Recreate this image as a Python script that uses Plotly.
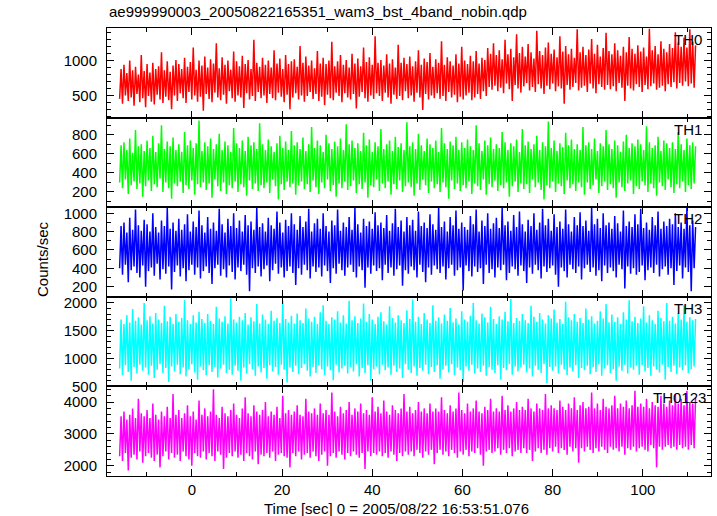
import plotly.graph_objects as go

# ---------------- data ----------------
title_text = "ae999990003_20050822165351_wam3_bst_4band_nobin.qdp"
x_label = "Time [sec] 0 = 2005/08/22 16:53:51.076"
y_label = "Counts/sec"
band_names = ["TH0", "TH1", "TH2", "TH3", "TH0123"]
band_colors = ["#ff0000", "#00ff00", "#0000ff", "#00ffff", "#ff00ff"]

t_start = -16.0
bin_width = 0.32

th0 = [450, 880, 380, 940, 500, 820, 420, 1000, 470, 860, 350, 910, 520, 800, 400, 1080, 460, 850, 330, 950,
       490, 830, 410, 970, 370, 880, 510, 920, 440, 1120, 390, 860, 480, 990, 430, 840, 300, 930, 500, 1010,
       420, 950, 530, 880, 460, 1040, 390, 910, 550, 980, 440, 1190, 500, 870, 410, 1000, 480, 930, 280, 1060,
       520, 900, 450, 1020, 400, 960, 540, 1250, 470, 890, 430, 1050, 510, 940, 380, 1000, 560, 870, 460, 1130,
       410, 990, 500, 920, 470, 1070, 320, 950, 530, 1010, 440, 880, 490, 1300, 420, 970, 550, 910, 460, 1040,
       500, 940, 390, 1000, 520, 900, 460, 1150, 430, 960, 540, 1030, 480, 880, 400, 1080, 510, 950, 300, 990,
       470, 1020, 530, 910, 440, 1210, 500, 970, 410, 1060, 490, 930, 550, 1000, 450, 890, 520, 1140, 420, 960,
       480, 1040, 360, 950, 510, 1000, 460, 1270, 430, 920, 540, 990, 490, 1080, 400, 940, 530, 1010, 470, 900,
       440, 1100, 520, 960, 310, 1030, 480, 920, 550, 1190, 460, 980, 410, 1050, 500, 940, 450, 1350, 530, 970,
       490, 1010, 420, 930, 540, 1090, 470, 960, 380, 1020, 510, 900, 450, 1230, 490, 970, 430, 1040, 560, 950,
       460, 1060, 500, 920, 410, 990, 540, 1150, 470, 940, 290, 1030, 520, 980, 440, 1110, 500, 910, 460, 1020,
       530, 970, 450, 1280, 490, 940, 420, 1050, 550, 990, 470, 930, 510, 1090, 400, 960, 480, 1200, 440, 1000,
       500, 950, 540, 1070, 430, 990, 470, 1140, 520, 960, 450, 1040, 560, 1010, 490, 1180, 620, 1100, 580, 1250,
       640, 1080, 560, 1150, 610, 1020, 530, 1300, 670, 1090, 590, 1170, 420, 1050, 650, 1380, 600, 1110, 540, 1200,
       630, 1060, 680, 1240, 570, 1120, 620, 1030, 550, 1430, 660, 1140, 600, 1080, 520, 1190, 640, 1260, 590, 1100,
       670, 1160, 560, 1050, 630, 1350, 600, 1130, 380, 1210, 650, 1090, 580, 1170, 620, 1040, 680, 1450, 570, 1120,
       610, 1200, 640, 1080, 550, 1160, 670, 1310, 600, 1100, 530, 1230, 660, 1060, 620, 1180, 580, 1400, 650, 1140,
       590, 1090, 630, 1250, 560, 1150, 680, 1070, 610, 1200, 420, 1120, 640, 1340, 600, 1170, 570, 1100, 660, 1220,
       620, 1130, 550, 1190, 650, 1060, 590, 1460, 630, 1150, 670, 1210, 580, 1090, 610, 1280, 640, 1170, 560, 1120,
       660, 1240, 620, 1180, 690, 1410, 600, 1260, 680, 1200, 640, 1330, 700, 1190, 630, 1450, 670, 1270, 610, 1220]

th1 = [300, 690, 240, 720, 330, 640, 180, 760, 270, 610, 310, 850, 230, 680, 290, 700, 150, 630, 260, 740,
       320, 660, 210, 790, 280, 620, 250, 710, 340, 900, 200, 650, 300, 730, 240, 680, 130, 770, 290, 640,
       260, 700, 310, 620, 190, 830, 270, 690, 230, 740, 320, 660, 170, 710, 280, 950, 250, 630, 300, 720,
       220, 680, 290, 760, 140, 650, 330, 700, 260, 810, 210, 640, 300, 730, 180, 690, 270, 620, 240, 870,
       310, 710, 200, 660, 280, 740, 250, 630, 160, 780, 320, 690, 230, 720, 290, 650, 210, 920, 270, 700,
       240, 640, 300, 750, 190, 680, 330, 620, 260, 710, 120, 790, 280, 660, 220, 730, 310, 640, 250, 840,
       290, 690, 170, 720, 270, 650, 310, 770, 230, 630, 280, 700, 200, 880, 320, 660, 250, 740, 180, 690,
       300, 620, 240, 800, 330, 710, 210, 650, 270, 730, 150, 680, 290, 760, 240, 640, 310, 910, 220, 700,
       260, 740, 320, 660, 190, 710, 280, 630, 230, 820, 300, 690, 140, 750, 270, 620, 250, 720, 330, 680,
       210, 860, 290, 650, 240, 700, 310, 740, 170, 630, 280, 780, 230, 670, 320, 710, 200, 640, 260, 930,
       300, 680, 250, 720, 160, 650, 290, 810, 220, 690, 330, 630, 270, 760, 190, 700, 310, 660, 240, 740,
       280, 620, 200, 870, 300, 710, 250, 650, 130, 730, 320, 690, 230, 780, 290, 640, 210, 720, 270, 660,
       240, 750, 310, 680, 180, 640, 290, 900, 260, 710, 220, 630, 330, 740, 170, 690, 280, 770, 250, 650,
       320, 700, 210, 660, 270, 830, 240, 720, 300, 640, 150, 710, 260, 680, 310, 750, 200, 620, 290, 860,
       230, 690, 280, 730, 190, 650, 330, 700, 250, 790, 300, 640, 220, 720, 120, 680, 270, 940, 240, 660,
       310, 740, 200, 630, 290, 710, 260, 670, 180, 820, 320, 690, 240, 750, 280, 650, 210, 700, 300, 640,
       250, 880, 170, 690, 300, 720, 230, 650, 270, 760, 330, 630, 190, 710, 260, 680, 310, 850, 220, 700,
       280, 650, 240, 740, 140, 690, 300, 620, 250, 730, 210, 800, 290, 660, 320, 710, 180, 680, 260, 750,
       230, 700, 310, 640, 270, 890, 200, 720, 290, 660, 240, 690, 160, 780, 300, 630, 260, 740, 220, 710,
       330, 660, 250, 720, 190, 650, 280, 830, 240, 700, 310, 640, 200, 760, 270, 690, 230, 720, 290, 680]

th2 = [400, 860, 330, 900, 440, 790, 250, 950, 380, 820, 420, 1040, 350, 870, 300, 810, 430, 930, 200, 880,
       370, 800, 410, 1000, 320, 850, 450, 790, 280, 920, 390, 860, 340, 1060, 420, 830, 170, 900, 360, 810,
       430, 940, 310, 820, 400, 880, 260, 990, 380, 800, 440, 910, 330, 850, 410, 1030, 290, 870, 370, 790,
       420, 960, 350, 830, 230, 900, 400, 810, 440, 1050, 320, 880, 390, 790, 300, 940, 430, 860, 360, 1000,
       280, 840, 410, 920, 370, 800, 440, 980, 330, 870, 150, 910, 400, 820, 350, 1060, 420, 850, 310, 890,
       390, 800, 430, 950, 260, 870, 380, 830, 450, 1020, 340, 900, 410, 790, 300, 930, 370, 860, 420, 1000,
       350, 880, 220, 820, 400, 970, 330, 850, 440, 910, 380, 1050, 290, 800, 420, 890, 360, 940, 410, 830,
       310, 1000, 430, 860, 370, 800, 240, 920, 400, 870, 340, 1040, 450, 810, 380, 900, 320, 850, 410, 960,
       440, 820, 360, 1060, 300, 880, 420, 790, 380, 940, 190, 860, 410, 910, 340, 830, 430, 1010, 370, 870,
       400, 900, 270, 840, 440, 980, 350, 810, 410, 890, 320, 1050, 390, 850, 430, 920, 210, 800, 380, 960,
       340, 870, 420, 930, 380, 810, 300, 1020, 440, 860, 360, 900, 250, 840, 410, 990, 330, 880, 430, 820,
       390, 1060, 350, 850, 420, 910, 280, 800, 400, 960, 440, 870, 320, 1030, 380, 830, 410, 900, 160, 850,
       430, 820, 370, 970, 310, 880, 420, 1040, 360, 800, 400, 920, 230, 860, 440, 1000, 350, 830, 390, 890,
       300, 950, 410, 840, 380, 1060, 440, 870, 270, 910, 350, 810, 420, 980, 390, 850, 320, 1020, 430, 880,
       370, 800, 240, 930, 410, 860, 340, 1000, 440, 820, 380, 900, 290, 1050, 420, 870, 360, 940, 400, 810,
       430, 990, 330, 850, 200, 910, 410, 830, 370, 1040, 300, 880, 440, 800, 390, 960, 350, 870, 420, 1010,
       280, 860, 400, 920, 440, 810, 360, 1060, 410, 880, 320, 940, 380, 840, 260, 1000, 430, 870, 350, 900,
       410, 830, 370, 970, 300, 890, 440, 800, 390, 1030, 180, 860, 420, 910, 340, 850, 400, 990, 330, 880,
       360, 1050, 430, 840, 270, 900, 380, 820, 410, 960, 350, 870, 440, 1020, 310, 830, 390, 910, 420, 860,
       330, 940, 400, 880, 220, 1000, 370, 850, 430, 900, 290, 830, 410, 1060, 360, 870, 150, 920, 400, 850]

th3 = [820, 1700, 700, 1620, 880, 1780, 760, 1650, 600, 1890, 850, 1680, 730, 1740, 890, 1610, 780, 2000, 840, 1690,
       710, 1760, 870, 1630, 650, 1820, 800, 1700, 900, 1640, 740, 1950, 830, 1670, 580, 1750, 860, 1620, 770, 1800,
       890, 1660, 720, 1730, 840, 2050, 680, 1690, 810, 1620, 900, 1780, 750, 1650, 620, 1840, 860, 1710, 790, 1640,
       700, 1800, 880, 1680, 760, 1620, 850, 1930, 660, 1720, 820, 1660, 890, 1760, 740, 1630, 800, 2080, 710, 1700,
       870, 1650, 780, 1750, 600, 1690, 840, 1820, 730, 1610, 900, 1740, 810, 1670, 690, 1980, 860, 1630, 750, 1790,
       830, 1700, 640, 1620, 880, 1860, 770, 1680, 850, 1730, 710, 1640, 890, 2030, 800, 1710, 570, 1650, 840, 1770,
       760, 1630, 870, 1810, 720, 1690, 830, 1640, 900, 1900, 780, 1720, 680, 1660, 850, 1750, 740, 1620, 880, 1830,
       810, 1960, 700, 1680, 860, 1620, 790, 1740, 610, 1700, 890, 1850, 750, 1650, 820, 1780, 870, 1630, 730, 2040,
       850, 1690, 770, 1760, 900, 1640, 680, 1720, 830, 1990, 740, 1660, 880, 1800, 600, 1700, 810, 1620, 860, 1750,
       720, 1830, 890, 1670, 790, 1610, 840, 1940, 710, 1730, 870, 1650, 760, 1780, 820, 1690, 650, 1640, 900, 1870,
       800, 1710, 740, 2060, 860, 1660, 690, 1750, 830, 1620, 780, 1820, 890, 1700, 720, 1640, 850, 1960, 760, 1680,
       880, 1740, 640, 1630, 810, 1790, 870, 1680, 750, 1910, 900, 1650, 700, 1720, 840, 1610, 790, 1850, 580, 1700,
       860, 1660, 780, 1770, 890, 2000, 730, 1690, 820, 1630, 760, 1810, 870, 1740, 690, 1650, 850, 1930, 800, 1710,
       740, 1620, 880, 1760, 620, 1700, 830, 1840, 790, 1670, 900, 2070, 710, 1640, 860, 1730, 770, 1680, 840, 1800,
       890, 1690, 750, 1640, 820, 1950, 680, 1750, 870, 1660, 800, 1820, 740, 1700, 900, 1630, 560, 1780, 850, 1720,
       780, 1880, 860, 1650, 730, 1710, 890, 1620, 810, 2020, 700, 1740, 840, 1690, 770, 1800, 880, 1660, 650, 1730,
       830, 1640, 790, 1900, 870, 1700, 720, 1760, 850, 1630, 760, 1680, 900, 1850, 690, 1720, 820, 1980, 880, 1650,
       740, 1790, 810, 1660, 600, 1740, 860, 1620, 780, 1830, 890, 1700, 730, 2050, 840, 1670, 800, 1750, 870, 1640,
       710, 1720, 880, 1940, 770, 1650, 830, 1780, 690, 1690, 860, 1620, 800, 1860, 750, 1730, 890, 1670, 620, 2000,
       850, 1680, 760, 1750, 870, 1630, 720, 1820, 840, 1700, 790, 1960, 880, 1660, 740, 1740, 810, 1690, 860, 1710]

th0123 = [2300, 3550, 2150, 3700, 2400, 3450, 1850, 3600, 2250, 3800, 2350, 3500, 2200, 4100, 2450, 3650, 2100, 3550, 2300, 3750,
          2400, 3500, 2250, 3950, 2150, 3600, 2350, 3450, 1950, 3700, 2300, 3550, 2450, 3850, 2200, 3500, 2400, 4250, 2250, 3600,
          2350, 3750, 2150, 3500, 2450, 3650, 2300, 3900, 2200, 3550, 2000, 3700, 2400, 3450, 2300, 4050, 2250, 3600, 2450, 3800,
          2200, 3550, 2400, 3700, 2300, 4400, 2150, 3600, 2450, 3500, 2350, 3850, 1900, 3650, 2250, 3550, 2400, 3750, 2300, 3950,
          2450, 3600, 2250, 3500, 2350, 3800, 2150, 4150, 2400, 3650, 2300, 3550, 2200, 3900, 2450, 3700, 2050, 3600, 2350, 3750,
          2300, 4000, 2400, 3550, 2250, 3700, 2450, 3600, 2150, 3850, 2350, 3500, 2400, 4200, 2300, 3650, 2250, 3750, 1950, 3600,
          2400, 3700, 2300, 3900, 2450, 3600, 2200, 3550, 2350, 4100, 2400, 3700, 2250, 3650, 2450, 3800, 2300, 3600, 2150, 3950,
          2350, 3650, 2450, 3750, 2000, 3600, 2300, 4300, 2400, 3700, 2250, 3550, 2450, 3850, 2350, 3650, 2200, 3750, 2400, 4000,
          2300, 3600, 2450, 3800, 2350, 3700, 2250, 3950, 2400, 3650, 1900, 3750, 2450, 3600, 2300, 4150, 2400, 3700, 2350, 3850,
          2450, 3650, 2300, 4050, 2400, 3700, 2250, 3600, 2450, 3900, 2350, 3750, 2150, 3650, 2400, 3800, 2300, 4250, 2450, 3700,
          2350, 3850, 2450, 3650, 2300, 3750, 2500, 4000, 2400, 3700, 2250, 3800, 2450, 3650, 2350, 3950, 2500, 3700, 2050, 3800,
          2400, 3700, 2500, 4150, 2350, 3750, 2450, 3650, 2300, 3900, 2500, 3700, 2400, 3800, 2250, 4300, 2450, 3750, 2350, 3650,
          2500, 3950, 2300, 3700, 2450, 3800, 2400, 4050, 2550, 3700, 2350, 3650, 2000, 3850, 2450, 3750, 2500, 4100, 2400, 3700,
          2450, 3800, 2550, 3700, 2350, 4200, 2500, 3750, 2400, 3900, 2550, 3700, 2300, 3800, 2450, 4000, 2500, 3750, 2400, 3850,
          2550, 3750, 2400, 4100, 2500, 3800, 2150, 3700, 2450, 3950, 2550, 3800, 2400, 3750, 2500, 4250, 2350, 3800, 2550, 3900,
          2450, 3800, 2600, 3750, 2400, 4050, 2550, 3850, 2500, 3750, 2350, 3950, 2600, 3800, 2450, 4150, 2550, 3750, 2100, 3900,
          2550, 4000, 2450, 3800, 2600, 3850, 2500, 4300, 2400, 3800, 2550, 3950, 2450, 3750, 2600, 4100, 2500, 3850, 2400, 3800,
          2600, 3900, 2500, 4200, 2550, 3800, 2450, 3950, 2600, 3850, 2350, 4050, 2550, 3800, 2500, 3900, 2600, 4350, 2450, 3850,
          2550, 3950, 2600, 3850, 2500, 4100, 2450, 3800, 2650, 4000, 2550, 3900, 1950, 3850, 2600, 4200, 2500, 3950, 2600, 3850,
          2650, 4050, 2550, 3900, 2600, 4250, 2500, 3950, 2650, 4100, 2550, 3900, 2600, 4350, 2500, 4000, 2650, 3950, 2550, 4150]

series = [th0, th1, th2, th3, th0123]
y_ranges = [[180, 1470], [40, 980], [90, 1066], [500, 2110], [1680, 4490]]
y_dticks = [500, 200, 200, 500, 1000]
y_minor = [100, 100, 100, 100, 200]
x_range = [-18.8, 115.1]

time = [t_start + i * bin_width for i in range(len(th0))]

# ---------------- figure ----------------
W, H = 717, 516
ml, mr, mt, mb = 107, 6, 28, 40
fig = go.Figure()
n = len(series)
font_family = "Liberation Sans, Arial, Helvetica, sans-serif"

layout = dict(
    width=W, height=H,
    margin=dict(l=ml, r=mr, t=mt, b=mb),
    paper_bgcolor="white", plot_bgcolor="white",
    showlegend=False,
    font=dict(family=font_family, size=15, color="black"),
)

for k in range(n):
    xa = "x" if k == 0 else f"x{k+1}"
    ya = "y" if k == 0 else f"y{k+1}"
    fig.add_trace(go.Scatter(
        x=time, y=series[k], mode="lines",
        line=dict(color=band_colors[k], width=1.5, simplify=False),
        xaxis=xa, yaxis=ya, hoverinfo="skip",
    ))
    top = 1 - k / n
    bot = 1 - (k + 1) / n
    xkey = "xaxis" if k == 0 else f"xaxis{k+1}"
    ykey = "yaxis" if k == 0 else f"yaxis{k+1}"
    layout[xkey] = dict(
        domain=[0, 1], anchor=ya, range=x_range,
        showline=True, linecolor="black", linewidth=1, mirror="ticks",
        ticks="inside", ticklen=7, tickcolor="black", tickwidth=1,
        dtick=20, tick0=0, showgrid=False, zeroline=False,
        showticklabels=(k == n - 1), automargin=False,
        tickfont=dict(size=15, color="black"),
        minor=dict(dtick=10, tick0=0, ticks="inside", ticklen=4, tickcolor="black", showgrid=False),
    )
    if k > 0:
        layout[xkey]["matches"] = "x"
    layout[ykey] = dict(
        domain=[bot, top], anchor=xa, range=y_ranges[k],
        showline=True, linecolor="black", linewidth=1, mirror="ticks",
        ticks="inside", ticklen=7, tickcolor="black", tickwidth=1,
        dtick=y_dticks[k], tick0=0, showgrid=False, zeroline=False,
        tickfont=dict(size=15, color="black"), automargin=False,
        ticklabelstandoff=6,
        minor=dict(dtick=y_minor[k], tick0=0, ticks="inside", ticklen=4, tickcolor="black", showgrid=False),
    )

fig.update_layout(**layout)

pw = W - ml - mr
ph = H - mt - mb
annotations = []
label_x = [0.989, 0.989, 0.989, 0.989, 0.995]
for k in range(n):
    top = 1 - k / n
    annotations.append(dict(
        text=band_names[k], xref="paper", yref="paper",
        x=label_x[k], y=top - 1 / ph, xanchor="right", yanchor="top",
        showarrow=False, font=dict(size=15, color="black"),
    ))
annotations.append(dict(
    text=title_text, xref="paper", yref="paper",
    x=0, y=1 + (mt - 12) / ph, xanchor="left", yanchor="middle",
    showarrow=False, font=dict(size=15, color="black"),
))
annotations.append(dict(
    text=x_label, xref="paper", yref="paper",
    x=(396 - ml) / pw, y=-(508 - (H - mb)) / ph, xanchor="center", yanchor="middle",
    showarrow=False, font=dict(size=15, color="black"),
))
annotations.append(dict(
    text=y_label, xref="paper", yref="paper",
    x=(42 - ml) / pw, y=1 - (259 - mt) / ph, xanchor="center", yanchor="middle",
    textangle=-90, showarrow=False, font=dict(size=15, color="black"),
))
fig.update_layout(annotations=annotations)

fig.write_html("out.html", config={"displayModeBar": False},
               post_script="document.body.style.margin='0';")
